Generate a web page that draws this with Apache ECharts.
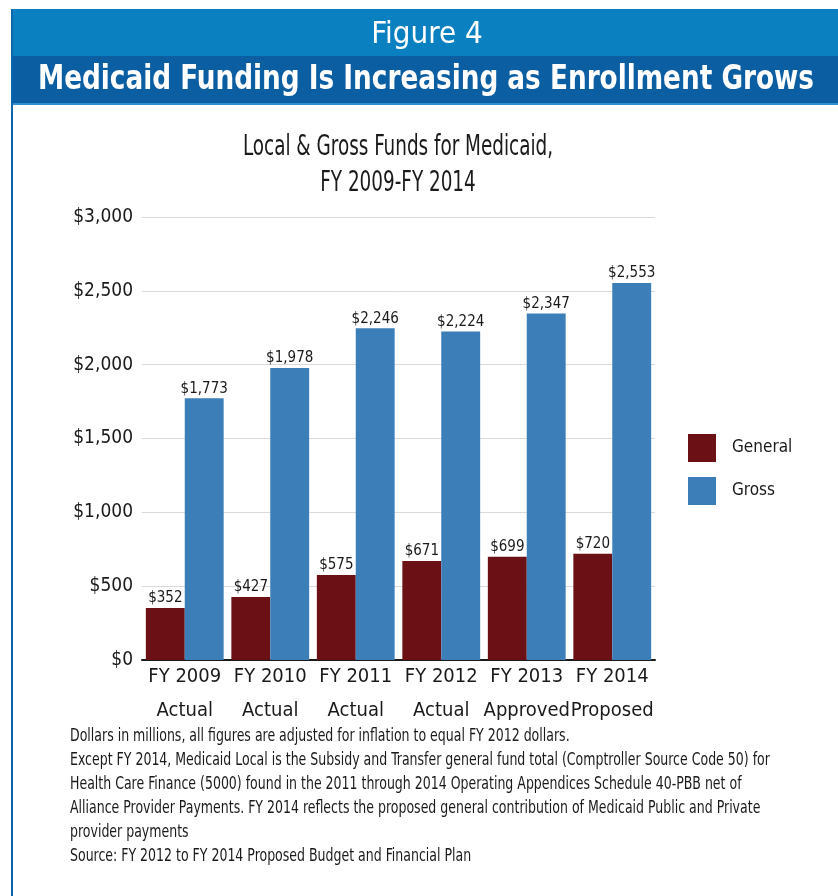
<!DOCTYPE html>
<html>
<head>
<meta charset="utf-8">
<script src="https://cdn.jsdelivr.net/npm/echarts@6/dist/echarts.min.js"></script>
<style>
  html, body { margin: 0; padding: 0; background: #ffffff; }
  #chart { width: 838px; height: 896px; }
</style>
</head>
<body>
<div id="chart"></div>
<script>
// Fiscal years shown on the category axis (two-line labels)
const categories = [
  'FY 2009\nActual',
  'FY 2010\nActual',
  'FY 2011\nActual',
  'FY 2012\nActual',
  'FY 2013\nApproved',
  'FY 2014\nProposed'
];

// Medicaid funds, dollars in millions
const generalFunds = [352, 427, 575, 671, 699, 720];
const grossFunds = [1773, 1978, 2246, 2224, 2347, 2553];

const seriesNames = ['General', 'Gross'];

const figureLabel = 'Figure 4';
const headline = 'Medicaid Funding Is Increasing as Enrollment Grows';
const chartTitle = 'Local & Gross Funds for Medicaid,\nFY 2009-FY 2014';

const notes = [
  'Dollars in millions, all figures are adjusted for inflation to equal FY 2012 dollars.',
  'Except FY 2014, Medicaid Local is the Subsidy and Transfer general fund total (Comptroller Source Code 50) for',
  'Health Care Finance (5000) found in the 2011 through 2014 Operating Appendices Schedule 40-PBB net of',
  'Alliance Provider Payments. FY 2014 reflects the proposed general contribution of Medicaid Public and Private',
  'provider payments',
  'Source: FY 2012 to FY 2014 Proposed Budget and Financial Plan'
];

const NARROW = '"DejaVu Sans Condensed", "Liberation Sans Narrow", sans-serif';
const INK = '#1a1a1a';

const money = v => '$' + Math.round(v).toLocaleString('en-US');

const chart = echarts.init(document.getElementById('chart'), null, { renderer: 'canvas' });

// footnote lines, horizontally condensed to the narrow typeface width
const noteElements = notes.map((line, i) => ({
  type: 'text',
  x: 70,
  y: 737 + i * 24,
  scaleX: 0.82,
  style: {
    text: line,
    font: '17px ' + NARROW,
    fill: INK,
    textAlign: 'left',
    textVerticalAlign: 'middle'
  }
}));

const barLabel = {
  show: true,
  position: 'top',
  distance: 2,
  formatter: p => money(p.value),
  fontFamily: NARROW,
  fontSize: 15,
  color: INK
};

chart.setOption({
  backgroundColor: '#ffffff',
  animation: false,
  legend: {
    orient: 'vertical',
    left: 688,
    top: 434,
    padding: 0,
    itemWidth: 28,
    itemHeight: 28,
    itemGap: 15,
    icon: 'rect',
    data: seriesNames,
    textStyle: {
      fontFamily: NARROW,
      fontSize: 17,
      color: INK,
      padding: [0, 0, 0, 11]
    }
  },
  grid: {
    left: 142,
    right: 183,
    top: 217,
    bottom: 236,
    containLabel: false
  },
  xAxis: {
    type: 'category',
    data: categories,
    axisTick: { show: false },
    axisLine: { lineStyle: { color: INK, width: 2 } },
    axisLabel: {
      fontFamily: NARROW,
      fontSize: 20,
      color: INK,
      lineHeight: 34,
      margin: 0,
      interval: 0
    }
  },
  yAxis: {
    type: 'value',
    min: 0,
    max: 3000,
    interval: 500,
    axisLine: { show: false },
    axisTick: { show: false },
    splitLine: { lineStyle: { color: '#dadada', width: 1 } },
    axisLabel: {
      formatter: money,
      fontFamily: NARROW,
      fontSize: 19,
      color: INK,
      margin: 9
    }
  },
  series: [
    {
      name: seriesNames[0],
      type: 'bar',
      data: generalFunds,
      barGap: '0%',
      barCategoryGap: '9%',
      itemStyle: { color: '#6b1115' },
      label: barLabel
    },
    {
      name: seriesNames[1],
      type: 'bar',
      data: grossFunds,
      barGap: '0%',
      barCategoryGap: '9%',
      itemStyle: { color: '#3c7fb8' },
      label: barLabel
    }
  ],
  graphic: [
    // header bands
    { type: 'rect', shape: { x: 11, y: 9, width: 827, height: 47 }, style: { fill: '#0a80c0' }, z: 10 },
    { type: 'rect', shape: { x: 11, y: 56, width: 827, height: 47 }, style: { fill: '#0c5ea3' }, z: 10 },
    { type: 'rect', shape: { x: 11, y: 103, width: 827, height: 2 }, style: { fill: '#2f8fd0' }, z: 10 },
    // left frame line
    { type: 'rect', shape: { x: 11, y: 9, width: 2, height: 887 }, style: { fill: '#0c66ad' }, z: 10 },
    {
      type: 'text', x: 427, y: 35, z: 11,
      style: {
        text: figureLabel,
        font: '31px ' + NARROW,
        fill: '#ffffff',
        textAlign: 'center',
        textVerticalAlign: 'middle'
      }
    },
    {
      type: 'text', x: 426, y: 80, z: 11, scaleX: 0.86,
      style: {
        text: headline,
        font: 'bold 34px ' + NARROW,
        fill: '#ffffff',
        textAlign: 'center',
        textVerticalAlign: 'middle'
      }
    },
    // chart title, two centred lines
    {
      type: 'text', x: 398, y: 166, z: 11, scaleX: 0.73,
      style: {
        text: chartTitle,
        font: '28px ' + NARROW,
        fill: INK,
        lineHeight: 36,
        textAlign: 'center',
        textVerticalAlign: 'middle'
      }
    },
    ...noteElements
  ]
});
</script>
</body>
</html>
